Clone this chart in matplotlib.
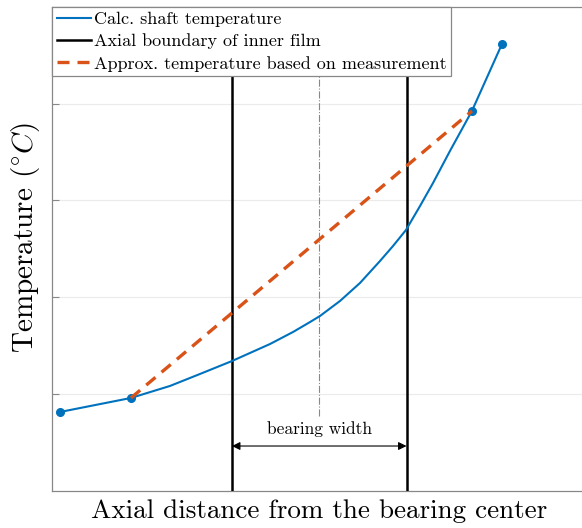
import matplotlib
matplotlib.use("Agg")
import matplotlib.pyplot as plt

plt.rcParams["font.family"] = "serif"
plt.rcParams["font.serif"] = ["cmr10", "DejaVu Serif"]
plt.rcParams["mathtext.fontset"] = "cm"
plt.rcParams["axes.formatter.use_mathtext"] = True

# Calculated shaft temperature along the axial coordinate (bearing half-width = 1)
x_calc = [-2.971, -2.158, -1.711, -1.367, -1.000, -0.564, -0.301, -0.106,
          0.009, 0.238, 0.467, 0.696, 0.845, 0.994, 1.155, 1.304, 1.498,
          1.750, 2.094]
t_calc = [0.812, 0.957, 1.081, 1.205, 1.339, 1.515, 1.639, 1.742,
          1.805, 1.960, 2.146, 2.373, 2.528, 2.694, 2.942, 3.180, 3.511,
          3.925, 4.617]
# measurement locations (indices into the calculated curve)
meas_idx = [0, 1, 17, 18]

# Linear approximation between the two measurement points around the bearing
x_approx = [-2.158, 1.750]
t_approx = [0.957, 3.925]

# Axial boundaries of the inner film and bearing center
film_bounds = [-1.0, 1.0]
bearing_center = 0.0

blue = "#0072BD"
orange = "#D95319"

fig = plt.figure(figsize=(5.82, 5.28), dpi=100)
ax = fig.add_axes([52 / 582, 37.5 / 528, 534.5 / 582, 483.5 / 528])

ax.plot(x_calc, t_calc, color=blue, lw=1.5, label="Calc. shaft temperature",
        zorder=4)
ax.plot([x_calc[i] for i in meas_idx], [t_calc[i] for i in meas_idx],
        ls="none", marker="o", markersize=5.5, color=blue, zorder=4)
for i, xb in enumerate(film_bounds):
    ax.axvline(xb, color="black", lw=1.8, zorder=3,
               label="Axial boundary of inner film" if i == 0 else None)
ax.plot(x_approx, t_approx, color=orange, lw=2.4, ls=(0, (3.6, 2.4)),
        label="Approx. temperature based on measurement", zorder=5)

ax.plot([bearing_center, bearing_center], [0.77, 5.0], color="#888888",
        lw=0.8, ls="-.", zorder=2)

ax.annotate("", xy=(film_bounds[0], 0.46), xytext=(film_bounds[1], 0.46),
            arrowprops=dict(arrowstyle="<|-|>", color="black", lw=0.8,
                            mutation_scale=12, shrinkA=0, shrinkB=0))
ax.text(bearing_center, 0.64, "bearing width", ha="center", va="center",
        fontsize=12.5)

ax.set_xlim(-3.063, 3.063)
ax.set_ylim(0, 5)
ax.set_xticks([])
ax.set_yticks([1, 2, 3, 4])
ax.set_yticklabels([])
ax.tick_params(axis="y", direction="in", length=5, color="#888888")
ax.grid(axis="y", color="#ebebeb", lw=0.8)
ax.set_axisbelow(True)
for s in ax.spines.values():
    s.set_color("#888888")
    s.set_linewidth(0.9)

ax.set_xlabel("Axial distance from the bearing center", fontsize=19.5,
              labelpad=6)
fig.text(26 / 582, 1 - 238 / 528, r"Temperature ($^{\circ}C$)", fontsize=21,
         rotation=90, ha="center", va="center")

leg = ax.legend(loc="upper left", bbox_to_anchor=(0, 1), fontsize=13,
                fancybox=False, framealpha=1, edgecolor="#888888",
                handlelength=1.9, handletextpad=0.15, borderaxespad=0,
                borderpad=0.25, labelspacing=0.36)
leg.get_frame().set_linewidth(0.9)

fig.savefig("out.png", dpi=100)
